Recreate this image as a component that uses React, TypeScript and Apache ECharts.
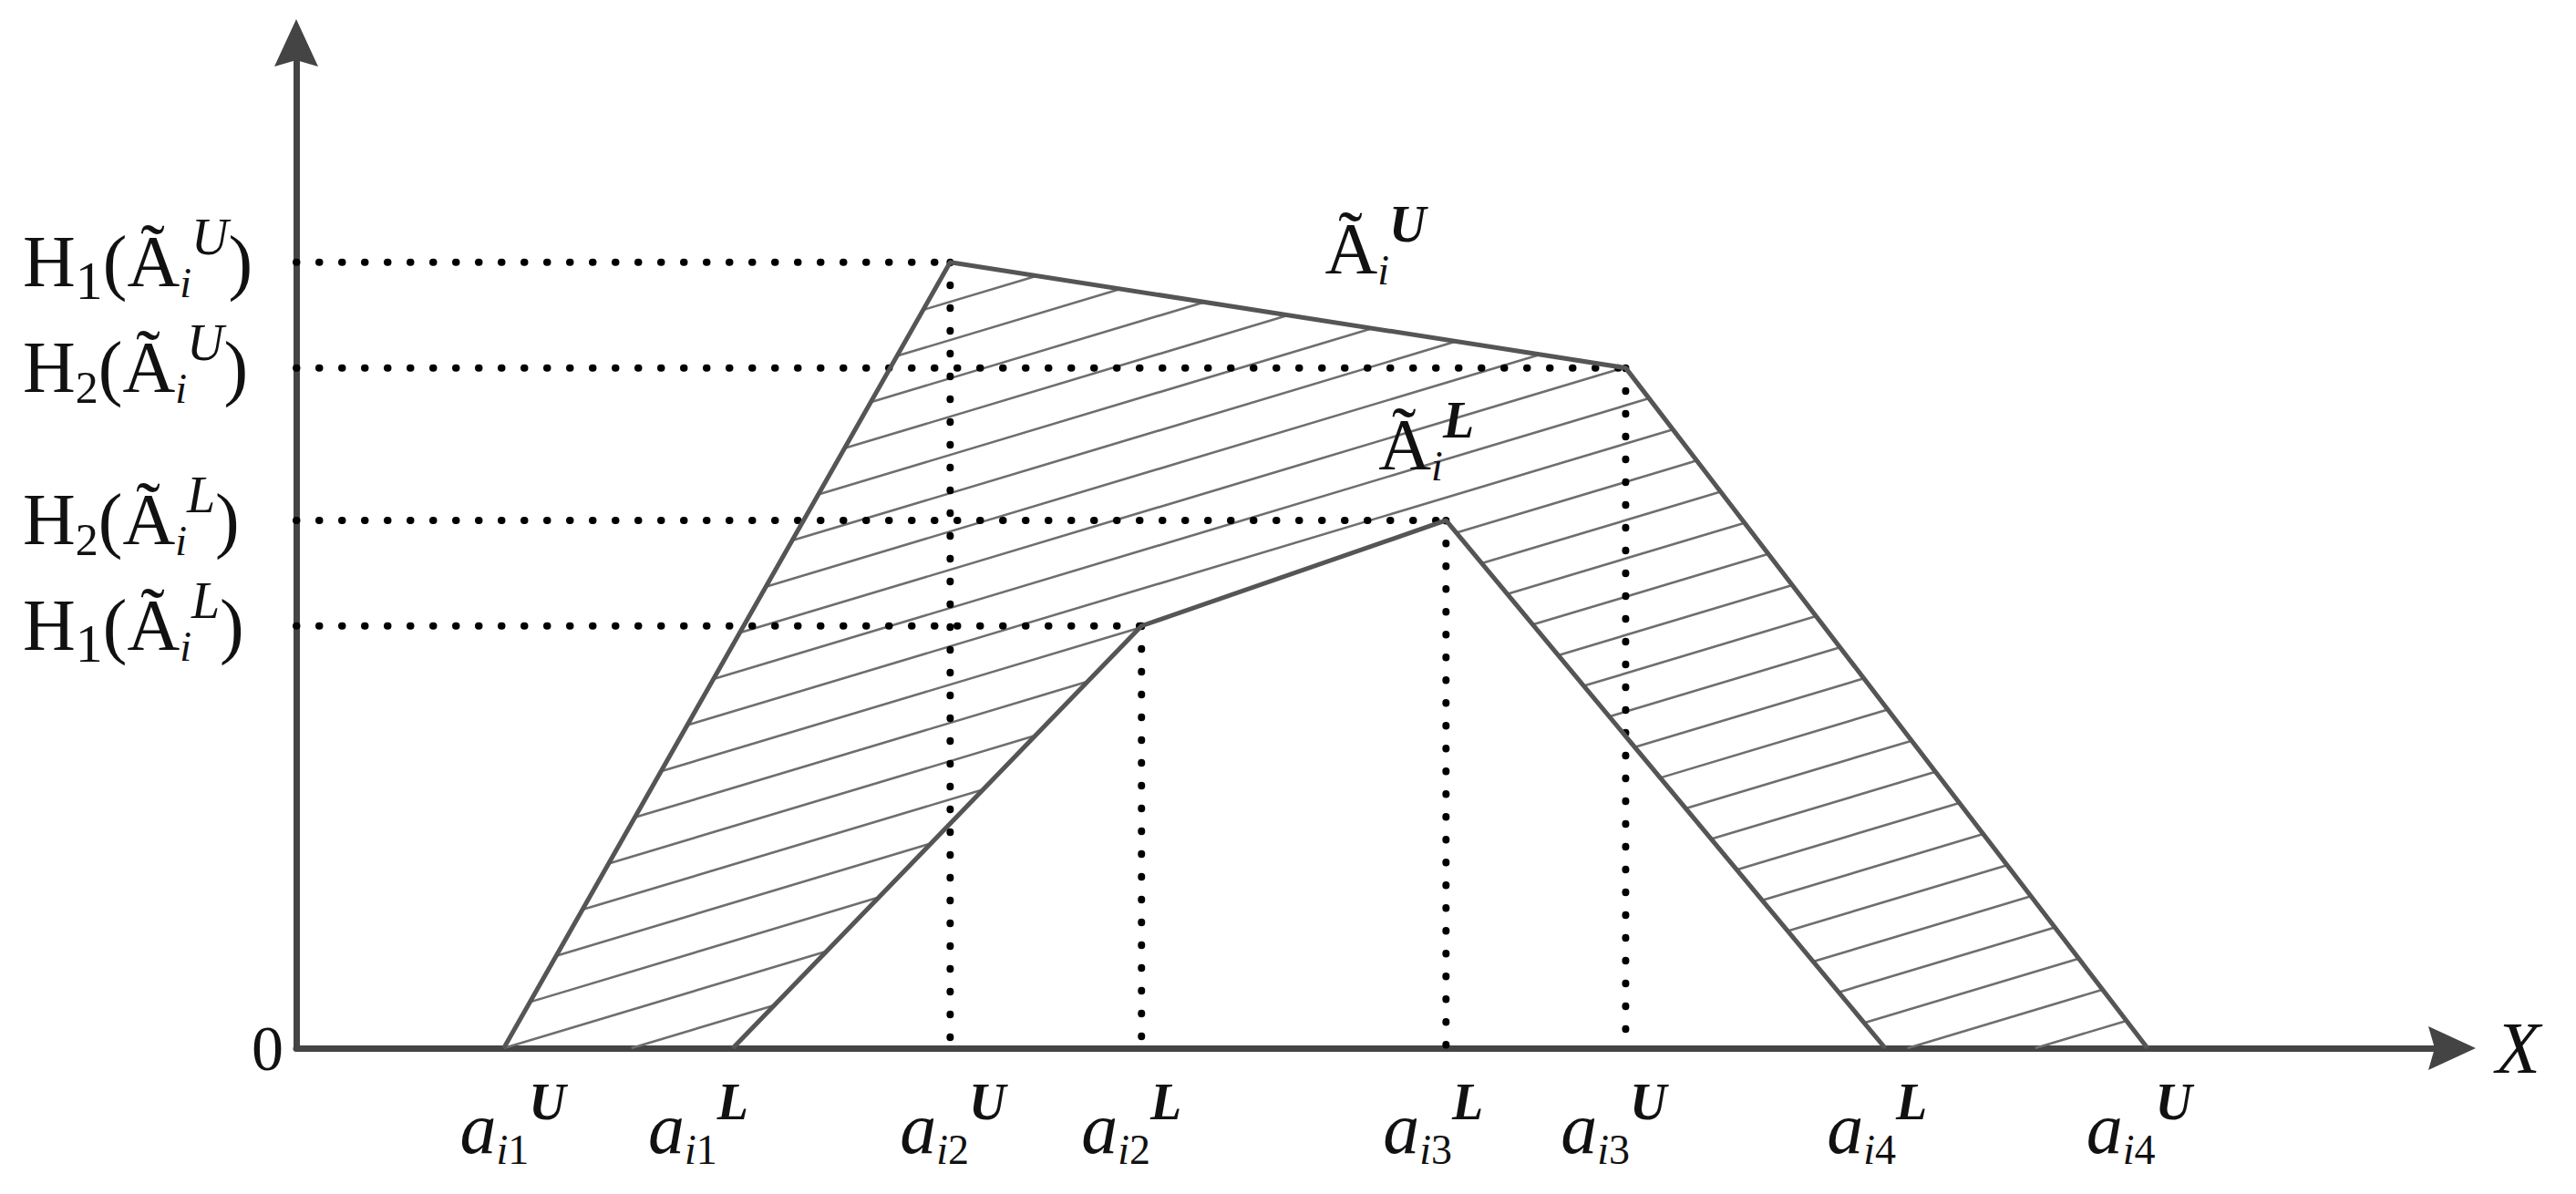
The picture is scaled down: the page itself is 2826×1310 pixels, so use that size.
import React, { useEffect, useRef } from 'react';
import * as echarts from 'echarts';

// ---------------- data ----------------
// x positions of the trapezoid vertices a_i1 .. a_i4 (upper / lower)
const upperX = [2.31, 7.28, 14.8, 20.61];
const lowerX = [4.86, 9.41, 12.8, 17.69];
// heights: [H1, H2]
const upperH = [0.938, 0.812];
const lowerH = [0.504, 0.63];
const xAxisMax = 24;
const yAxisMax = 1.2;
const vertexIndex = ['1', '2', '3', '4'];
const originLabel = '0';
const xAxisName = 'X';

// ---------------- styles ----------------
const FONT = '"Liberation Serif", "Times New Roman", serif';
const INK = '#111111';
const AXIS = '#444444';
const EDGE = '#555555';
const HATCH = '#6e6e6e';
const ARROW = 'path://M24,0L48,52L24,45L0,52Z';
// per-label horizontal nudge (px) of the x tick labels
const xLabelNudge: Record<string, number> = {
  U1: 10, L1: -38, U2: 3, L2: -11, L3: -14, U3: -13, L4: -9, U4: -9,
};

type Part = { t: string; size: number; it?: boolean; b?: boolean; dy?: number; dx?: number };

let measureCtx: CanvasRenderingContext2D | null = null;
function textWidth(p: Part): number {
  if (!measureCtx) measureCtx = document.createElement('canvas').getContext('2d');
  if (!measureCtx) return p.size * 0.5 * p.t.length;
  measureCtx.font = `${p.it ? 'italic ' : ''}${p.b ? 'bold ' : ''}${p.size}px ${FONT}`;
  return measureCtx.measureText(p.t).width;
}
function partsWidth(parts: Part[]): number {
  return parts.reduce((s, p) => s + textWidth(p) + (p.dx || 0), 0);
}
function mathText(parts: Part[], left: number, baseline: number): any[] {
  const out: any[] = [];
  let x = left;
  for (const p of parts) {
    x += p.dx || 0;
    out.push({
      type: 'text',
      x,
      y: baseline + (p.dy || 0) - 0.3375 * p.size,
      z2: 20,
      style: {
        text: p.t,
        fontFamily: FONT,
        fontSize: p.size,
        fontStyle: p.it ? 'italic' : 'normal',
        fontWeight: p.b ? 'bold' : 'normal',
        fill: INK,
        align: 'left',
        verticalAlign: 'middle',
        textAlign: 'left',
        textVerticalAlign: 'middle',
      },
    });
    x += textWidth(p);
  }
  return out;
}

function xLabelParts(idx: string, sup: string): Part[] {
  return [
    { t: 'a', size: 80, it: true },
    { t: 'i', size: 46, it: true, dy: 12 },
    { t: idx, size: 46, dy: 12 },
    { t: sup, size: 56, it: true, b: true, dy: -37 },
  ];
}
function yLabelParts(idx: string, sup: string): Part[] {
  return [
    { t: 'H', size: 80 },
    { t: idx, size: idx === '1' ? 60 : 50, dy: idx === '1' ? 14 : 12 },
    { t: '(', size: 80 },
    { t: '\u00C3', size: 80 },
    { t: 'i', size: 46, it: true, dy: 12 },
    { t: sup, size: 56, it: true, dy: -35 },
    { t: ')', size: 80 },
  ];
}
function setLabelParts(sup: string): Part[] {
  return [
    { t: '\u00C3', size: 80 },
    { t: 'i', size: 46, it: true, dy: 12 },
    { t: sup, size: 56, it: true, b: true, dy: -35 },
  ];
}

// ---------------- hatch geometry ----------------
function polyInterval(poly: number[][], m: number, c: number): number[] | null {
  const xs: number[] = [];
  for (let j = 0; j < poly.length; j++) {
    const p = poly[j];
    const q = poly[(j + 1) % poly.length];
    const fp = p[1] + m * p[0] - c;
    const fq = q[1] + m * q[0] - c;
    if ((fp <= 0 && fq > 0) || (fp > 0 && fq <= 0)) {
      const t = fp / (fp - fq);
      xs.push(p[0] + t * (q[0] - p[0]));
    }
  }
  if (xs.length < 2) return null;
  return [Math.min(...xs), Math.max(...xs)];
}
function hatchSegments(outer: number[][], inner: number[][], m: number, spacing: number): number[][] {
  const cs = outer.map((p) => p[1] + m * p[0]);
  const cMin = Math.min(...cs);
  const cMax = Math.max(...cs);
  const c0 = outer[0][1] + m * outer[0][0];
  const k0 = Math.ceil((cMin - c0) / spacing);
  const k1 = Math.floor((cMax - c0) / spacing);
  const segs: number[][] = [];
  for (let k = k0; k <= k1; k++) {
    const c = c0 + k * spacing;
    const o = polyInterval(outer, m, c);
    if (!o) continue;
    const i = polyInterval(inner, m, c);
    let pieces: number[][] = [o];
    if (i && i[1] > o[0] && i[0] < o[1]) {
      pieces = [];
      if (i[0] > o[0]) pieces.push([o[0], i[0]]);
      if (i[1] < o[1]) pieces.push([i[1], o[1]]);
    }
    for (const [a, b] of pieces) {
      if (b - a > 2) segs.push([a, c - m * a, b, c - m * b]);
    }
  }
  return segs;
}

const upperPts = [
  [upperX[0], 0],
  [upperX[1], upperH[0]],
  [upperX[2], upperH[1]],
  [upperX[3], 0],
];
const lowerPts = [
  [lowerX[0], 0],
  [lowerX[1], lowerH[0]],
  [lowerX[2], lowerH[1]],
  [lowerX[3], 0],
];
const dottedSegments = [
  [0, upperH[0], upperX[1], upperH[0]],
  [0, upperH[1], upperX[2], upperH[1]],
  [0, lowerH[1], lowerX[2], lowerH[1]],
  [0, lowerH[0], lowerX[1], lowerH[0]],
  [upperX[1], upperH[0], upperX[1], 0],
  [upperX[2], upperH[1], upperX[2], 0],
  [lowerX[1], lowerH[0], lowerX[1], 0],
  [lowerX[2], lowerH[1], lowerX[2], 0],
];

export default function App() {
  const ref = useRef<HTMLDivElement>(null);
  useEffect(() => {
    if (!ref.current) return;
    const chart = echarts.init(ref.current, undefined, { renderer: 'svg' });
    const option: any = {
      animation: false,
      backgroundColor: '#ffffff',
      grid: { left: 325, right: 136, top: 47, bottom: 160, containLabel: false, outerBoundsMode: 'none' },
      xAxis: {
        type: 'value',
        min: 0,
        max: xAxisMax,
        name: xAxisName,
        nameLocation: 'end',
        nameGap: 48,
        nameTextStyle: { fontFamily: FONT, fontStyle: 'italic', fontSize: 80, color: INK, padding: [22, 0, 0, 0] },
        axisLine: { show: true, onZero: false, symbol: ['none', ARROW], symbolSize: [48, 52], lineStyle: { color: AXIS, width: 7 } },
        axisTick: { show: false },
        axisLabel: { show: false },
        splitLine: { show: false },
      },
      yAxis: {
        type: 'value',
        min: 0,
        max: yAxisMax,
        interval: yAxisMax,
        axisLine: { show: true, onZero: false, symbol: ['none', ARROW], symbolSize: [48, 52], lineStyle: { color: AXIS, width: 7 } },
        axisTick: { show: false },
        axisLabel: {
          formatter: (v: number) => (v === 0 ? originLabel : ''),
          margin: 14,
          fontFamily: FONT,
          fontSize: 70,
          color: INK,
        },
        splitLine: { show: false },
      },
      series: [
        {
          type: 'custom',
          name: 'hatch',
          silent: true,
          z: 1,
          data: [[0, 0]],
          renderItem: (_params: any, api: any) => {
            const outer = upperPts.map((p) => api.coord(p));
            const inner = lowerPts.map((p) => api.coord(p));
            const segs = hatchSegments(outer, inner, 0.3, 42);
            return {
              type: 'group',
              children: segs.map((s) => ({
                type: 'line',
                shape: { x1: s[0], y1: s[1], x2: s[2], y2: s[3] },
                style: { stroke: HATCH, lineWidth: 2.6 },
              })),
            };
          },
        },
        {
          type: 'custom',
          name: 'guides',
          silent: true,
          z: 3,
          data: dottedSegments,
          encode: { x: [0, 2], y: [1, 3] },
          renderItem: (_params: any, api: any) => {
            const p1 = api.coord([api.value(0), api.value(1)]);
            const p2 = api.coord([api.value(2), api.value(3)]);
            return {
              type: 'line',
              shape: { x1: p1[0], y1: p1[1], x2: p2[0], y2: p2[1] },
              style: { stroke: '#000000', lineWidth: 8, lineDash: [0.5, 24.5], lineCap: 'round' },
            };
          },
        },
        {
          type: 'line',
          name: 'upper',
          data: upperPts,
          symbol: 'none',
          clip: false,
          silent: true,
          z: 4,
          lineStyle: { color: EDGE, width: 5 },
        },
        {
          type: 'line',
          name: 'lower',
          data: lowerPts,
          symbol: 'none',
          clip: false,
          silent: true,
          z: 4,
          lineStyle: { color: EDGE, width: 5 },
        },
        {
          type: 'custom',
          name: 'labels',
          silent: true,
          z: 5,
          data: [[0, 0]],
          renderItem: (_params: any, api: any) => {
            const children: any[] = [];
            const axisY = api.coord([0, 0])[1];
            const axisX = api.coord([0, 0])[0];
            // x tick labels
            const ticks: { v: number; idx: string; sup: string }[] = [];
            upperX.forEach((v, i) => ticks.push({ v, idx: vertexIndex[i], sup: 'U' }));
            lowerX.forEach((v, i) => ticks.push({ v, idx: vertexIndex[i], sup: 'L' }));
            for (const t of ticks) {
              const parts = xLabelParts(t.idx, t.sup);
              const w = partsWidth(parts);
              const cx = api.coord([t.v, 0])[0] + (xLabelNudge[t.sup + t.idx] || 0);
              children.push(...mathText(parts, cx - w / 2, axisY + 115));
            }
            // y tick labels
            const yTicks = [
              { h: upperH[0], idx: '1', sup: 'U' },
              { h: upperH[1], idx: '2', sup: 'U' },
              { h: lowerH[1], idx: '2', sup: 'L' },
              { h: lowerH[0], idx: '1', sup: 'L' },
            ];
            for (const t of yTicks) {
              const y = api.coord([0, t.h])[1];
              children.push(...mathText(yLabelParts(t.idx, t.sup), axisX - 300, y + 26));
            }
            // set labels
            const pU = api.coord([upperX[2], upperH[1]]);
            children.push(...mathText(setLabelParts('U'), pU[0] - 330, pU[1] - 104));
            const pL = api.coord([lowerX[2], lowerH[1]]);
            children.push(...mathText(setLabelParts('L'), pL[0] - 74, pL[1] - 56));
            return { type: 'group', children };
          },
        },
      ],
    };
    chart.setOption(option);
    return () => chart.dispose();
  }, []);
  return (
    <div
      ref={ref}
      style={{ position: 'absolute', left: 0, top: 0, width: 2826, height: 1310, background: '#fff' }}
    />
  );
}
